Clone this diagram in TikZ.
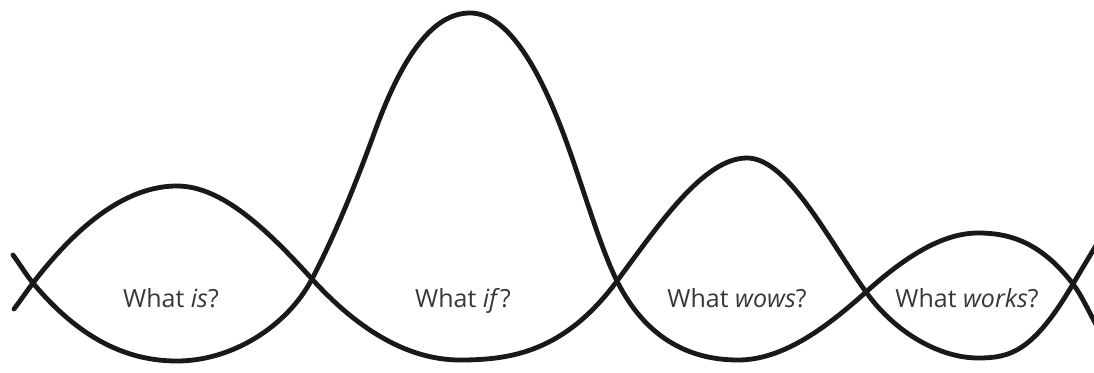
\documentclass[tikz,border=0pt]{standalone}
\usepackage{fontspec}
\setmainfont{Open Sans}
\begin{document}
\begin{tikzpicture}[x=1pt,y=-1pt,
  wave/.style={line width=4.8pt,line cap=round,line join=round,color=black!90},
  lbl/.style={anchor=base,font=\fontsize{25}{30}\selectfont,text=black!78,inner sep=0pt}]
\useasboundingbox (0,0) rectangle (1094,372);
\fill[white] (0,0) rectangle (1094,372);
% crossing points
\coordinate (X1) at (33,283);
\coordinate (X2) at (312,279);
\coordinate (X3) at (617,281);
\coordinate (X4) at (866,292);
\coordinate (X5) at (1073,284);
% curve 1: lower at "is", upper at "if", lower at "wows", upper at "works"
\draw[wave] (13,255) .. controls +(6.7,9) and +(-6.7,-8) .. (X1)
  .. controls +(48,57.6) and +(-48,0) .. (177,361)
  .. controls +(55,0) and +(-25,47.5) .. (X2)
  .. controls +(21,-40) and +(-21,57.75) .. (375,131)
  .. controls +(31.7,-87) and +(-31.7,0) .. (470,13)
  .. controls +(31.7,0) and +(-31.7,-85.6) .. (565,138)
  .. controls +(17.3,46.7) and +(-17.3,-34.6) .. (X3)
  .. controls +(28,56) and +(-50,0) .. (738,360)
  .. controls +(43,0) and +(-43,38.7) .. (X4)
  .. controls +(37,-33.3) and +(-37,0) .. (978,233)
  .. controls +(32,0) and +(-32,-41.6) .. (X5)
  .. controls +(8.3,10.8) and +(-8.3,-14.6) .. (1098,328);
% curve 2: upper at "is", lower at "if", upper at "wows", lower at "works"
\draw[wave] (14,309) .. controls +(6.3,-8.2) and +(-6.3,8.2) .. (X1)
  .. controls +(48,-62.4) and +(-48,0) .. (177,186)
  .. controls +(45,0) and +(-45,-49.5) .. (X2)
  .. controls +(49,54) and +(-49,0) .. (460,360)
  .. controls +(52,0) and +(-52,70.2) .. (X3)
  .. controls +(43,-58) and +(-43,0) .. (747,158)
  .. controls +(40,0) and +(-40,-56) .. (X4)
  .. controls +(30,42) and +(-37,0) .. (978,358)
  .. controls +(32,0) and +(-40,68) .. (X5)
  .. controls +(8.3,-14.1) and +(-8.3,14.1) .. (1098,242);
\node[lbl] (l1) at (171,307) {What \textit{is}?};
\node[lbl] (l2) at (463,307) {What \textit{if}?};
\node[lbl] (l3) at (737,307) {What \textit{wows}?};
\node[lbl] (l4) at (967,307) {What \textit{works}?};
\end{tikzpicture}
\end{document}
